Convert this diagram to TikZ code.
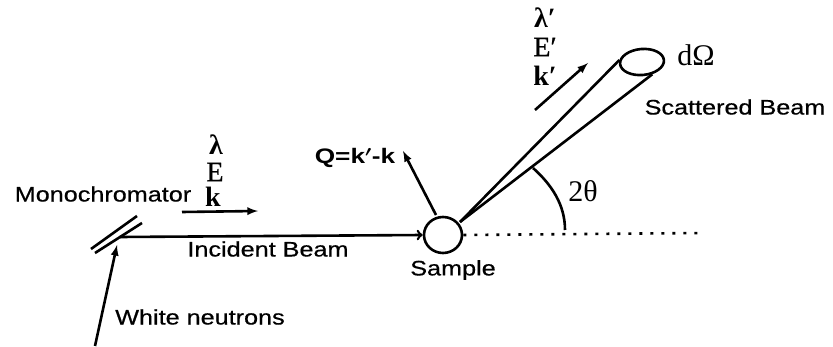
\documentclass[tikz,border=0pt]{standalone}
\usepackage{fontspec}
\setsansfont{Liberation Sans}
\newfontfamily\lblfont[FakeBold=0.5]{Liberation Sans}
\newfontfamily\symfont{Liberation Serif}
\newfontfamily\symheavy[FakeBold=0.8]{Liberation Serif}
\usetikzlibrary{arrows}
\usetikzlibrary{shapes.geometric}
\tikzset{
lbl/.style={font=\fontsize{21}{24}\selectfont\lblfont, xscale=1.2, transform shape, inner sep=0pt},
sym/.style={font=\fontsize{28}{30}\selectfont\symfont, inner sep=0pt},
thin sym/.style={font=\fontsize{30}{32}\selectfont\symfont, inner sep=0pt},
beam/.style={line width=2.6pt},
ray/.style={-latex, line width=2.6pt},
}

\begin{document}
\begin{tikzpicture}[x=1pt,y=-1pt]
\useasboundingbox (0,0) rectangle (833,347);

%%%%%%%%%%   incident side
\node[lbl] (mono) at (103,194) {Monochromator};
\node[lbl] (incident) at (268,249) {Incident Beam};
\node[lbl] (white) at (200,317) {White neutrons};
\node[sym] (lam) at (216,145) {\bfseries λ};
\node[sym] (en) at (215,172) {\symheavy E};
\node[sym] (wave) at (213,197) {\bfseries k};

\coordinate (m1a) at (91,249);
\coordinate (m1b) at (137,216);
\coordinate (m2a) at (95,253);
\coordinate (m2b) at (142,223);
\draw[beam] (m1a) -- (m1b);
\draw[beam] (m2a) -- (m2b);

\coordinate (src) at (95,346);
\coordinate (hit) at (117,245);
\draw[ray] (src) -- (hit);

\coordinate (k0) at (182,212);
\coordinate (k1) at (258,211);
\draw[ray] (k0) -- (k1);

\node[draw, ellipse, line width=2.6pt, minimum width=38pt, minimum height=36pt, inner sep=0pt] (sample) at (443,235) {};
\node[lbl] (samplelbl) at (453,270) {Sample};

\coordinate (mono0) at (120,237);
\draw[beam, ->] (mono0) -- (sample.west);

%%%%%%%%%%   scattered side
\node[draw, ellipse, rotate=5, line width=2.6pt, minimum width=44pt, minimum height=26pt, inner sep=0pt] (cone) at (642,62) {};
\coordinate (tip) at (460,222);
\draw[beam] (tip) -- (cone.170);
\draw[beam] (tip) -- (cone.-55);

\coordinate (end) at (705,233);
\draw[line width=2.6pt, dash pattern=on 3pt off 8pt] (sample.east) -- (end);

\coordinate (q0) at (436,215);
\coordinate (q1) at (403,151);
\draw[ray] (q0) -- (q1);
\node[lbl, font=\fontsize{21}{24}\selectfont\sffamily\bfseries\boldmath, xscale=1.04] (qlbl) at (355,158) {Q=k$^{\prime}$-k};

\coordinate (s0) at (535,110);
\coordinate (s1) at (588,63);
\draw[ray] (s0) -- (s1);

\node[sym] (lamp) at (545,18) {\bfseries λ′};
\node[sym] (enp) at (545,47) {\symheavy E′};
\node[sym] (wavep) at (545,76) {\bfseries k′};
\node[thin sym] (domega) at (696,55) {dΩ};
\node[lbl] (scat) at (735,107) {Scattered Beam};

\coordinate (a0) at (565,230);
\coordinate (a1) at (533,168);
\draw[beam] (a0) .. controls (565,205) and (552,185) .. (a1);
\node[thin sym] (angle) at (583,191) {2θ};

\end{tikzpicture}
\end{document}
